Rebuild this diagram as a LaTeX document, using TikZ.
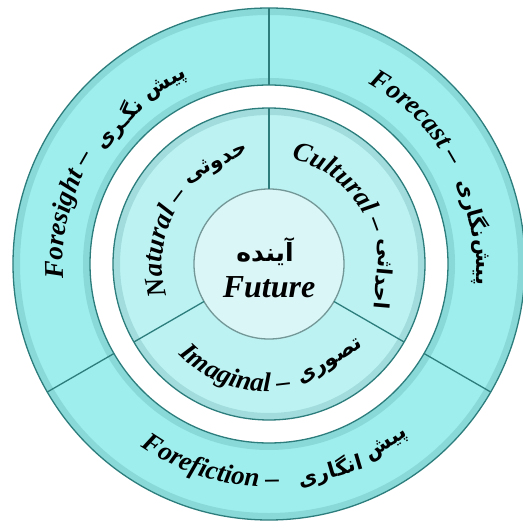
\documentclass[tikz,border=0pt]{standalone}
\usepackage{fontspec}
\usepackage{xcolor}
\usepackage{tikz}
\usetikzlibrary{decorations.text}
\TeXXeTstate=1
\newfontfamily\engfont{Liberation Serif Bold Italic}
\newfontfamily\farsifont[Script=Arabic]{DejaVu Sans}
\newcommand\ringfont{\engfont\fontsize{27}{27}\selectfont}
\newcommand\corefont{\engfont\fontsize{32}{32}\selectfont}
\definecolor{ringout}{RGB}{158,238,238}
\definecolor{ringmid}{RGB}{188,242,242}
\definecolor{ringcore}{RGB}{218,246,246}
\definecolor{ringline}{RGB}{45,125,125}
\definecolor{coreline}{RGB}{115,150,150}

\begin{document}
\begin{tikzpicture}[x=1pt,y=1pt]
        \tikzstyle{every node}+=[inner sep=0pt]
        \tikzstyle{edge}=[ringline, line width=1.3pt]
        \tikzstyle{rim}=[ringline, opacity=0.18, line width=7pt]
        \tikzstyle{farsi}=[font=\farsifont\bfseries\fontsize{21}{21}\selectfont]
        \useasboundingbox (-269,-262) rectangle (253,264);
        \fill [ringout, even odd rule] (0,0) circle (256) (0,0) circle (179);
        \draw [rim] (0,0) circle (252.5);
        \draw [rim] (0,0) circle (182.5);
        \draw [edge] (0,0) circle (256);
        \draw [edge] (0,0) circle (179);
        \fill [ringmid] (0,0) circle (156);
        \draw [rim] (0,0) circle (152.5);
        \draw [edge] (0,0) circle (156);
        \fill [ringcore] (0,0) circle (75);
        \draw [coreline, line width=1.3pt] (0,0) circle (75);
        \foreach \a in {90,-30,210} {
          \draw [edge] (\a:179) -- (\a:256);
          \draw [edge] (\a:75) -- (\a:156);
        }
        \node [farsi, font=\farsifont\bfseries\fontsize{25}{25}\selectfont] (ayandeh) at (-4,12) {\beginR آینده\endR};
        \node [font=\corefont] (future) at (0,-23) {Future};
        \path [decorate, decoration={text along path, text align=left, text={|\ringfont|Foresight –}}]
          (184:206) arc [start angle=184, end angle=120, radius=206];
        \node [farsi, rotate=47] (negari) at (137:205) {\beginR نگـری\endR};
        \node [farsi, rotate=30] (pishleft) at (120:207) {\beginR پیش\endR};
        \path [decorate, decoration={text along path, text align=left, text={|\ringfont|Forecast –}}]
          (61:206) arc [start angle=61, end angle=-10, radius=206];
        \node [farsi, rotate=-74.7] (negaari) at (15.3:211) {\beginR نگاری\endR};
        \node [farsi, rotate=-89.5] (pishright) at (0.5:211) {\beginR پیش\endR};
        \path [decorate, decoration={text along path, text align=left, text={|\ringfont|Forefiction –}}]
          (235:223) arc [start angle=235, end angle=310, radius=223];
        \node [farsi, rotate=16.5] (engaari) at (286.5:216) {\beginR انگاری\endR};
        \node [farsi, rotate=33] (pishbottom) at (303:216) {\beginR پیش\endR};
        \path [decorate, decoration={text along path, text align=left, text={|\ringfont|Natural –}}]
          (197:107) arc [start angle=197, end angle=100, radius=107];
        \node [farsi, rotate=28] (hodusi) at (118:113) {\beginR حدوثی\endR};
        \path [decorate, decoration={text along path, text align=left, text={|\ringfont|Cultural –}}]
          (78:107) arc [start angle=78, end angle=-10, radius=107];
        \node [farsi, rotate=-95] (ehdasi) at (-5:115) {\beginR احداثی\endR};
        \path [decorate, decoration={text along path, text align=left, text={|\ringfont|Imaginal –}}]
          (225:128) arc [start angle=225, end angle=310, radius=128];
        \node [farsi, rotate=32] (tasavori) at (302:117) {\beginR تصوری\endR};
\end{tikzpicture}
\end{document}
